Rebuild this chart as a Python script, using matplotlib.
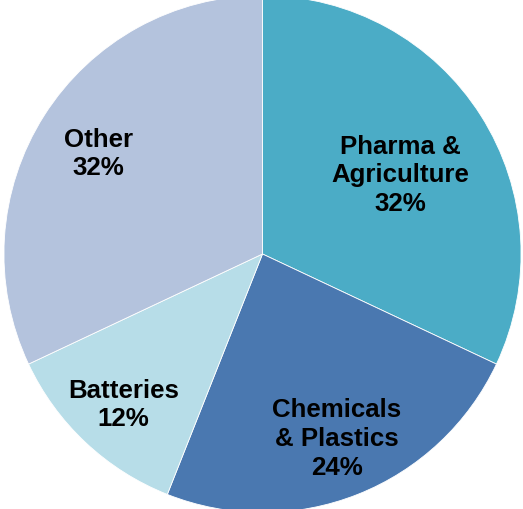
import numpy as np
import matplotlib
matplotlib.use("Agg")
import matplotlib.pyplot as plt

# Werte des Diagramms (Anteile in %)
categories = ["Pharma &\nAgriculture", "Chemicals\n& Plastics", "Batteries", "Other"]
shares = [32, 24, 12, 32]
colors = ["#4BACC6", "#4A78B0", "#B7DDE8", "#B4C3DD"]

# Lage der Beschriftung: Abstand vom Mittelpunkt und kleine vertikale Korrektur
label_radius = [0.63, 0.775, 0.80, 0.765]
label_dy = [-0.027, 0.001, -0.003, -0.015]

fig = plt.figure(figsize=(5.23, 5.10), dpi=100)
ax = fig.add_axes([0, 0, 1, 1])

wedges, _ = ax.pie(shares, colors=colors, startangle=90, counterclock=False,
                   radius=1.01,
                   wedgeprops=dict(edgecolor="white", linewidth=0.6))

for w, cat, val, r, dy in zip(wedges, categories, shares, label_radius, label_dy):
    mid = np.deg2rad((w.theta1 + w.theta2) / 2)
    ax.text(r * np.cos(mid) + 0.005, r * np.sin(mid) + dy, f"{cat}\n{val}%",
            ha="center", va="center", fontsize=18.6, fontweight="bold",
            family="Liberation Sans", linespacing=1.25, color="black")

ax.set_aspect("auto")
ax.set_xlim(-262.5 / 256, (523 - 262.5) / 256)
ax.set_ylim(-255 / 256, 255 / 256)
ax.axis("off")

fig.savefig("out.png", dpi=100)
